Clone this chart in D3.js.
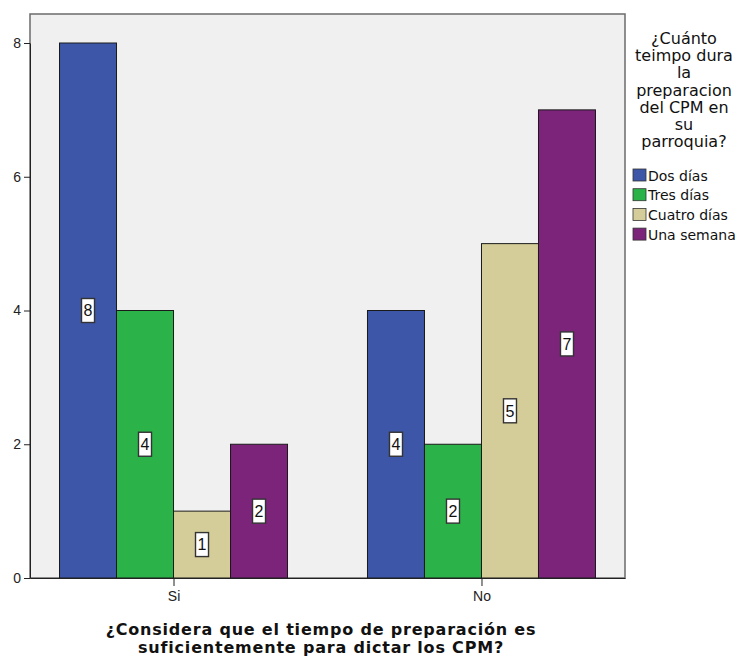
<!DOCTYPE html>
<html>
<head>
<meta charset="utf-8">
<script src="https://cdn.jsdelivr.net/npm/d3@7"></script>
<style>
  body { margin: 0; background: #fff; }
  text { font-family: "Liberation Sans", Arial, sans-serif; }
</style>
</head>
<body>
<div id="chart"></div>
<script>
// data
const groups = ["Si", "No"];
const series = ["Dos días", "Tres días", "Cuatro días", "Una semana"];
const dosDias = [8, 4];
const tresDias = [4, 2];
const cuatroDias = [1, 5];
const unaSemana = [2, 7];
const yTicks = [0, 2, 4, 6, 8];
const legendTitle = ["¿Cuánto", "teimpo dura", "la", "preparacion", "del CPM en", "su", "parroquia?"];
const xTitle = ["¿Considera que el tiempo de preparación es", "suficientemente para dictar los CPM?"];

const values = [dosDias, tresDias, cuatroDias, unaSemana];
const colors = ["#3d56a8", "#2bb34a", "#d5cd99", "#7b2479"];

const width = 736, height = 662;
const plotLeft = 30, plotRight = 625, plotTop = 14, plotBottom = 578;

const svg = d3.select("#chart").append("svg")
    .attr("width", width)
    .attr("height", height);

// plot background + frame
svg.append("rect")
    .attr("x", plotLeft).attr("y", plotTop)
    .attr("width", plotRight - plotLeft).attr("height", plotBottom - plotTop)
    .attr("fill", "#f0f0f0")
    .attr("stroke", "#6b6b6b")
    .attr("stroke-width", 1.5);

const y = d3.scaleLinear().domain([0, 8]).range([plotBottom, 43]);
const x = d3.scalePoint().domain(groups).range([plotLeft, plotRight]).padding(0.466);
const inner = d3.scaleBand().domain(series).range([-114, 114]);

// bars
const rows = [];
groups.forEach((g, gi) => {
    series.forEach((s, si) => {
        rows.push({ group: g, key: s, value: values[si][gi], color: colors[si] });
    });
});

const bars = svg.append("g");
bars.selectAll("rect")
    .data(rows).enter()
    .append("rect")
    .attr("x", d => x(d.group) + inner(d.key))
    .attr("y", d => y(d.value))
    .attr("width", inner.bandwidth())
    .attr("height", d => y(0) - y(d.value))
    .attr("fill", d => d.color)
    .attr("stroke", "#1a1a1a")
    .attr("stroke-width", 1);

// value labels in white boxes
const labels = svg.append("g");
const lab = labels.selectAll("g")
    .data(rows).enter()
    .append("g")
    .attr("transform", d => "translate(" + (x(d.group) + inner(d.key) + inner.bandwidth() / 2) + "," + (y(d.value / 2)) + ")");
lab.append("rect")
    .attr("x", -6.5).attr("y", -12)
    .attr("width", 13).attr("height", 24)
    .attr("fill", "#fff")
    .attr("stroke", "#333")
    .attr("stroke-width", 1.4);
lab.append("text")
    .attr("text-anchor", "middle")
    .attr("dy", "0.36em")
    .style("font-size", "16px")
    .attr("fill", "#111")
    .text(d => d.value);

// y axis
const yAxis = svg.append("g")
    .attr("transform", "translate(" + plotLeft + ",0)")
    .call(d3.axisLeft(y).tickValues(yTicks).tickSize(6).tickPadding(3).tickSizeOuter(0));
yAxis.select(".domain").attr("stroke", "#222");
yAxis.selectAll("line").attr("stroke", "#222");
yAxis.selectAll("text").style("font-size", "14px").style("font-family", "Liberation Sans, Arial, sans-serif").attr("fill", "#222");

// x axis
const xAxis = svg.append("g")
    .attr("transform", "translate(0," + plotBottom + ")")
    .call(d3.axisBottom(x).tickSize(8).tickPadding(5).tickSizeOuter(0));
xAxis.select(".domain").attr("stroke", "#222");
xAxis.selectAll("line").attr("stroke", "#222");
xAxis.selectAll("text").style("font-size", "14px").style("font-family", "Liberation Sans, Arial, sans-serif").attr("fill", "#222");

// x title
svg.append("g").selectAll("text")
    .data(xTitle).enter()
    .append("text")
    .attr("x", 321)
    .attr("y", (d, i) => 635 + i * 18)
    .attr("text-anchor", "middle")
    .style("font-family", "DejaVu Sans, sans-serif")
    .style("font-weight", "bold")
    .style("font-size", "16px")
    .style("letter-spacing", "0.8px")
    .attr("fill", "#111")
    .text(d => d);

// legend
const legend = svg.append("g");
legend.selectAll("text.t")
    .data(legendTitle).enter()
    .append("text")
    .attr("class", "t")
    .attr("x", 684)
    .attr("y", (d, i) => 44 + i * 17.2)
    .attr("text-anchor", "middle")
    .style("font-family", "DejaVu Sans, sans-serif")
    .style("font-size", "16px")
    .attr("fill", "#111")
    .text(d => d);

const item = legend.selectAll("g.item")
    .data(series).enter()
    .append("g")
    .attr("class", "item")
    .attr("transform", (d, i) => "translate(633," + (169 + i * 19.7) + ")");
item.append("rect")
    .attr("width", 13).attr("height", 12)
    .attr("fill", (d, i) => colors[i])
    .attr("stroke", "#333")
    .attr("stroke-width", 0.8);
item.append("text")
    .attr("x", 15).attr("y", 11.5)
    .style("font-family", "DejaVu Sans, sans-serif")
    .style("font-size", "14px")
    .attr("fill", "#111")
    .text(d => d);
</script>
</body>
</html>
